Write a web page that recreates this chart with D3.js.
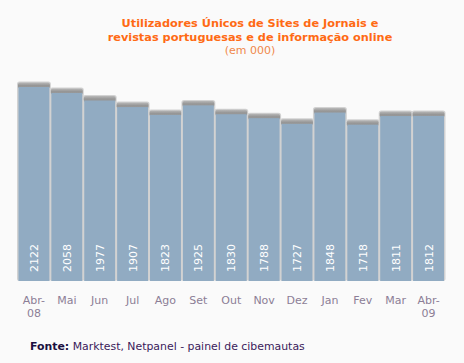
<!DOCTYPE html>
<html><head><meta charset="utf-8">
<script src="https://cdn.jsdelivr.net/npm/d3@7"></script>
<style>html,body{margin:0;padding:0;background:#fafafa;}</style>
</head><body>
<script>
const months = ["Abr-08","Mai","Jun","Jul","Ago","Set","Out","Nov","Dez","Jan","Fev","Mar","Abr-09"];
const values = [2122,2058,1977,1907,1823,1925,1830,1788,1727,1848,1718,1811,1812];
const titleLines = ["Utilizadores Únicos de Sites de Jornais e","revistas portuguesas e de informação online"];
const subtitle = "(em 000)";

const W = 464, H = 363;
const svg = d3.select("body").append("svg").attr("width", W).attr("height", H)
  .style("font-family", "'DejaVu Sans', Verdana, sans-serif");
svg.append("rect").attr("width", W).attr("height", H).attr("fill", "#fafafa");

const x = d3.scaleBand().domain(months).range([17.5, 445]).paddingInner(0.06).paddingOuter(0.03);
const y = d3.scaleLinear().domain([0, 2122]).range([281, 83]);

const defs = svg.append("defs");
const g1 = defs.append("linearGradient").attr("id","cap").attr("x1",0).attr("y1",0).attr("x2",0).attr("y2",1);
g1.append("stop").attr("offset","0%").attr("stop-color","#b8b8b8");
g1.append("stop").attr("offset","50%").attr("stop-color","#969696");
g1.append("stop").attr("offset","100%").attr("stop-color","#9a9a9a");

const bars = svg.append("g").selectAll("g").data(months).join("g");
// light border
bars.append("rect")
  .attr("x", d => x(d) - 1.5).attr("width", x.bandwidth() + 3)
  .attr("y", (d,i) => y(values[i]) - 1.5).attr("height", (d,i) => y(0) - y(values[i]) + 1.5)
  .attr("rx", 2.5).attr("fill", "#d2d2d2");
// dark cap
bars.append("rect")
  .attr("x", d => x(d) - 0.5).attr("width", x.bandwidth() + 1)
  .attr("y", (d,i) => y(values[i]) - 0.5).attr("height", 6)
  .attr("rx", 2).attr("fill", "url(#cap)");
// blue body
bars.append("rect")
  .attr("x", d => x(d)).attr("width", x.bandwidth())
  .attr("y", (d,i) => y(values[i]) + 4).attr("height", (d,i) => y(0) - y(values[i]) - 4)
  .attr("fill", "#91abc2");
// values
bars.append("text")
  .attr("transform", d => `translate(${x(d) + x.bandwidth()/2 + 4},272) rotate(-90)`)
  .attr("fill", "#ffffff").attr("font-size", 11)
  .text((d,i) => values[i]);

// month labels
const xl = svg.append("g").selectAll("text").data(months).join("text")
  .attr("text-anchor", "middle").attr("fill", "#8c7e96").attr("font-size", 11)
  .attr("x", d => x(d) + x.bandwidth()/2).attr("y", 304);
xl.each(function(d){
  const parts = d.includes("-") ? [d.split("-")[0] + "-", d.split("-")[1]] : [d];
  const t = d3.select(this);
  parts.forEach((p,k) => t.append("tspan").attr("x", x(d) + x.bandwidth()/2).attr("dy", k ? 13 : 0).text(p));
});

// title
svg.append("text").attr("x", 250).attr("y", 27).attr("text-anchor","middle")
  .attr("fill","#ff6a14").attr("font-weight","bold").attr("font-size", 11.3)
  .selectAll("tspan").data(titleLines).join("tspan")
  .attr("x", 250).attr("dy", (d,i) => i ? 14 : 0).text(d => d);
svg.append("text").attr("x", 250).attr("y", 54).attr("text-anchor","middle")
  .attr("fill","#f0884a").attr("font-size", 11).text(subtitle);

// footer
const f = svg.append("text").attr("x", 30).attr("y", 350).attr("font-size", 10.9);
f.append("tspan").attr("font-weight","bold").attr("fill","#1a1040").text("Fonte:");
f.append("tspan").attr("fill","#3a1a5a").text(" Marktest, Netpanel - painel de cibemautas");
</script>
</body></html>
